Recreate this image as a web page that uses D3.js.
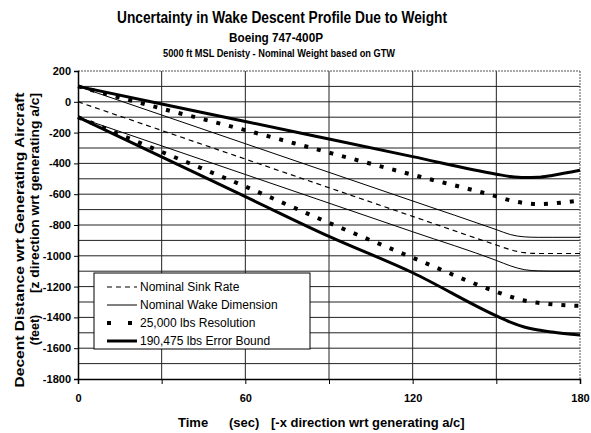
<!DOCTYPE html>
<html>
<head>
<meta charset="utf-8">
<script src="https://cdn.jsdelivr.net/npm/d3@7"></script>
<style>
  body { margin: 0; background: #fff; }
  text { font-family: "Liberation Sans", Arial, sans-serif; }
</style>
</head>
<body>
<script>
// time axis (sec)
var times = [0, 30, 60, 90, 120, 150, 155, 160, 165, 170, 180];

// descent (feet) for each curve
var nominalSink = [0, -186, -372, -558, -744, -930, -960, -980, -985, -985, -985];
var wakeUpper = [100, -86, -272, -458, -644, -830, -862, -877, -880, -880, -880];
var wakeLower = [-100, -286, -472, -658, -844, -1030, -1065, -1090, -1098, -1100, -1100];
var resUpper = [100, -44, -184, -330, -474, -614, -640, -657, -664, -660, -640];
var resLower = [-100, -325, -550, -786, -1012, -1234, -1265, -1290, -1305, -1315, -1325];
var boundUpper = [100, -14, -128, -242, -356, -470, -485, -492, -490, -478, -445];
var boundLower = [-100, -358, -616, -874, -1110, -1390, -1430, -1462, -1482, -1495, -1515];

var xTicks = [0, 60, 120, 180];
var yTicks = [200, 0, -200, -400, -600, -800, -1000, -1200, -1400, -1600, -1800];

var legendNames = ["Nominal Sink Rate", "Nominal Wake Dimension", "25,000 lbs Resolution", "190,475 lbs Error Bound"];

var W = 591, H = 433;
// plot box (top is a reserved window name, so use plot* names)
var plotL = 78, plotR = 580, plotT = 71, plotB = 379;

var svg = d3.select("body")
  .append("svg")
  .attr("width", W)
  .attr("height", H);

svg.append("rect").attr("width", W).attr("height", H).attr("fill", "#fff");

var x = d3.scaleLinear().domain([0, 180]).range([plotL, plotR]);
var y = d3.scaleLinear().domain([-1800, 200]).range([plotB, plotT]);

// grid
var grid = svg.append("g");
grid.selectAll("line.h")
  .data(d3.range(-1700, 200, 100))
  .enter()
  .append("line")
  .attr("class", "h")
  .attr("x1", plotL).attr("x2", plotR)
  .attr("y1", function(d) { return y(d); })
  .attr("y2", function(d) { return y(d); })
  .attr("stroke", "#222")
  .attr("stroke-width", 1);
grid.selectAll("line.v")
  .data(d3.range(30, 180, 30))
  .enter()
  .append("line")
  .attr("class", "v")
  .attr("y1", plotT).attr("y2", plotB)
  .attr("x1", function(d) { return x(d); })
  .attr("x2", function(d) { return x(d); })
  .attr("stroke", "#222")
  .attr("stroke-width", 1);

// top / right border (light, dotted like the scan)
svg.append("line").attr("x1", plotL).attr("x2", plotR).attr("y1", plotT).attr("y2", plotT)
  .attr("stroke", "#555").attr("stroke-dasharray", "2,1");
svg.append("line").attr("x1", plotR).attr("x2", plotR).attr("y1", plotT).attr("y2", plotB)
  .attr("stroke", "#555").attr("stroke-dasharray", "2,1");

// axes
var yAxis = svg.append("g")
  .attr("transform", "translate(" + plotL + ",0)")
  .call(d3.axisLeft(y).tickValues(yTicks).tickSize(4).tickPadding(3)
    .tickFormat(function(d) { return String(d); }));
var xAxis = svg.append("g")
  .attr("transform", "translate(0," + plotB + ")")
  .call(d3.axisBottom(x).tickValues(d3.range(0, 181, 30)).tickSize(5).tickFormat(function(d) {
    return xTicks.indexOf(d) >= 0 ? String(d) : "";
  }).tickPadding(10));
[yAxis, xAxis].forEach(function(a) {
  a.select(".domain").attr("stroke", "#000").attr("stroke-width", 1.5);
  a.selectAll(".tick line").attr("stroke", "#000");
  a.selectAll("text")
    .attr("font-family", "'Liberation Sans', Arial, sans-serif")
    .attr("font-size", "11px")
    .attr("font-weight", "bold")
    .attr("fill", "#000");
});

// series
var line = d3.line()
  .x(function(d) { return x(d[0]); })
  .y(function(d) { return y(d[1]); })
  .curve(d3.curveMonotoneX);

function pts(vals) {
  return vals.map(function(v, i) { return [times[i], v]; });
}

var styles = [
  {w: 1.2, dash: "5,4"},
  {w: 1, dash: null},
  {w: 4, dash: "4,9"},
  {w: 3, dash: null}
];

var series = [
  {vals: nominalSink, s: 0},
  {vals: wakeUpper, s: 1},
  {vals: wakeLower, s: 1},
  {vals: resUpper, s: 2},
  {vals: resLower, s: 2},
  {vals: boundUpper, s: 3},
  {vals: boundLower, s: 3}
];

svg.append("g").selectAll("path")
  .data(series)
  .enter()
  .append("path")
  .attr("d", function(d) { return line(pts(d.vals)); })
  .attr("fill", "none")
  .attr("stroke", "#000")
  .attr("stroke-width", function(d) { return styles[d.s].w; })
  .attr("stroke-dasharray", function(d) { return styles[d.s].dash; });

// legend
var lg = svg.append("g").attr("transform", "translate(94,273)");
lg.append("rect")
  .attr("width", 216).attr("height", 76)
  .attr("fill", "#fff").attr("stroke", "#000").attr("stroke-width", 1);
var rows = lg.selectAll("g.row")
  .data(legendNames)
  .enter()
  .append("g")
  .attr("transform", function(d, i) { return "translate(0," + (14 + i * 18) + ")"; });
rows.append("line")
  .attr("x1", 13).attr("x2", 43)
  .attr("y1", 0).attr("y2", 0)
  .attr("stroke", "#000")
  .attr("stroke-width", function(d, i) { return styles[i].w; })
  .attr("stroke-dasharray", function(d, i) { return i === 2 ? "4,17" : styles[i].dash; });
rows.append("text")
  .attr("x", 46).attr("y", 4)
  .attr("font-size", "12px")
  .attr("fill", "#000")
  .text(function(d) { return d; });

// titles
svg.append("text")
  .attr("x", 282).attr("y", 23)
  .attr("text-anchor", "middle")
  .attr("font-size", "16px").attr("font-weight", "bold")
  .attr("textLength", 330).attr("lengthAdjust", "spacingAndGlyphs")
  .text("Uncertainty in Wake Descent Profile Due to Weight");
svg.append("text")
  .attr("x", 276).attr("y", 42)
  .attr("text-anchor", "middle")
  .attr("font-size", "12px").attr("font-weight", "bold")
  .attr("textLength", 94).attr("lengthAdjust", "spacingAndGlyphs")
  .text("Boeing 747-400P");
svg.append("text")
  .attr("x", 279).attr("y", 57)
  .attr("text-anchor", "middle")
  .attr("font-size", "10px").attr("font-weight", "bold")
  .attr("textLength", 232).attr("lengthAdjust", "spacingAndGlyphs")
  .text("5000 ft MSL Denisty - Nominal Weight based on GTW");

// x axis title, in three pieces like the spaced-out original
var xTitle = [
  {t: "Time", x0: 178},
  {t: "(sec)", x0: 229},
  {t: "[-x direction wrt generating a/c]", x0: 271}
];
svg.selectAll("text.xt")
  .data(xTitle)
  .enter()
  .append("text")
  .attr("class", "xt")
  .attr("x", function(d) { return d.x0; })
  .attr("y", 427)
  .attr("font-size", "13px").attr("font-weight", "bold")
  .text(function(d) { return d.t; });

svg.append("text")
  .attr("transform", "translate(24,240) rotate(-90)")
  .attr("text-anchor", "middle")
  .attr("font-size", "13px").attr("font-weight", "bold")
  .attr("textLength", 295).attr("lengthAdjust", "spacingAndGlyphs")
  .text("Decent Distance wrt Generating Aircraft");
svg.append("text")
  .attr("transform", "translate(39,193) rotate(-90)")
  .attr("text-anchor", "middle")
  .attr("font-size", "12.5px").attr("font-weight", "bold")
  .attr("textLength", 200).attr("lengthAdjust", "spacingAndGlyphs")
  .text("[z direction wrt generating a/c]");
svg.append("text")
  .attr("transform", "translate(39,330) rotate(-90)")
  .attr("text-anchor", "middle")
  .attr("font-size", "12.5px").attr("font-weight", "bold")
  .text("(feet)");
</script>
</body>
</html>
